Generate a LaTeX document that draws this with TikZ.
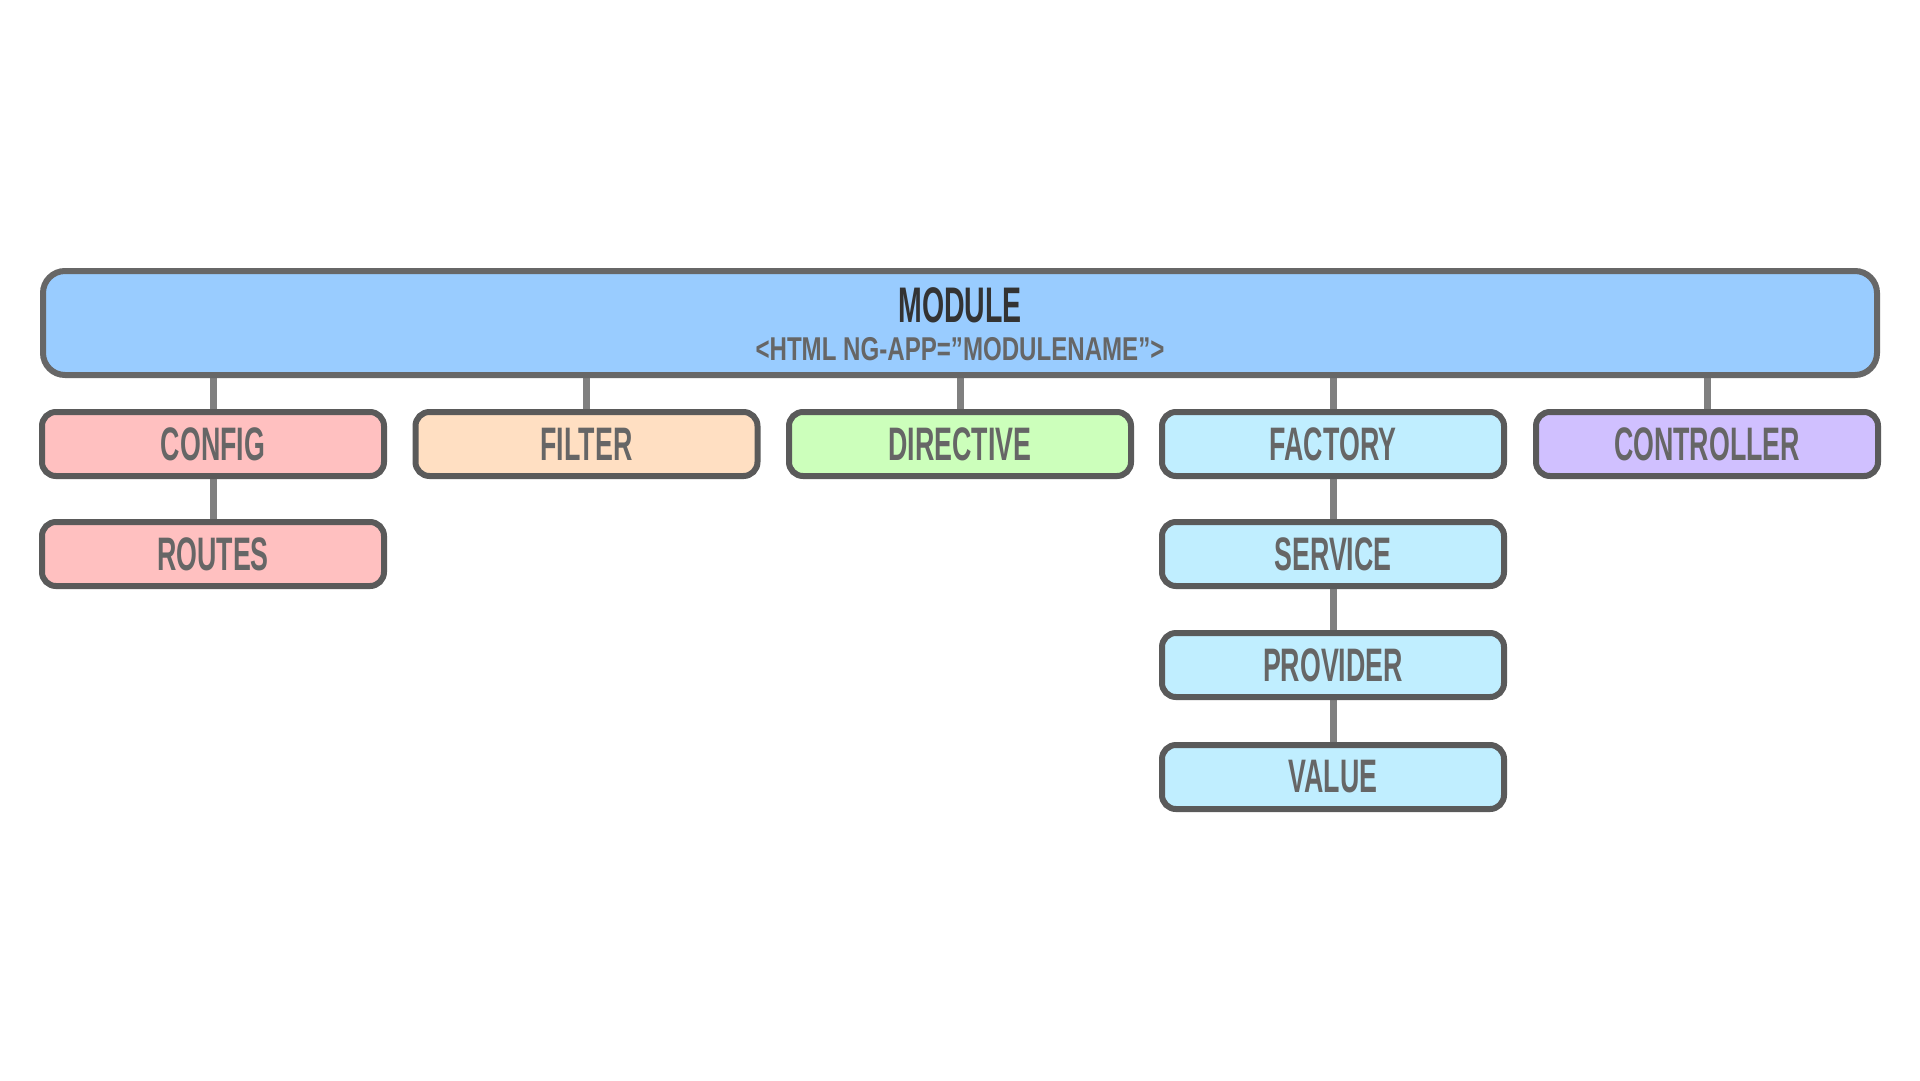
\documentclass[tikz,border=0pt]{standalone}
\usepackage{fontspec}
\newfontfamily\bebas{Liberation Sans}[FakeStretch=0.57]
\newfontfamily\bebaswide{Liberation Sans}[FakeStretch=0.73]
\usetikzlibrary{backgrounds}
\definecolor{modfill}{HTML}{99CCFF}
\definecolor{pinkfill}{HTML}{FFC0C0}
\definecolor{peachfill}{HTML}{FFDFC2}
\definecolor{greenfill}{HTML}{CCFFBB}
\definecolor{cyanfill}{HTML}{C0EEFF}
\definecolor{purplefill}{HTML}{D0C0FF}
\definecolor{edgegray}{HTML}{5A5A5A}
\definecolor{modedge}{HTML}{676767}
\definecolor{linkgray}{HTML}{808080}
\definecolor{textgray}{HTML}{666666}
\definecolor{titlegray}{HTML}{333333}
\tikzset{
  box/.style={draw=edgegray, line width=6pt, rounded corners=14pt,
    minimum width=342pt, minimum height=64pt, inner sep=0pt,
    text=textgray, font=\bebas\bfseries\fontsize{47}{50}\selectfont},
  link/.style={draw=linkgray, line width=7pt},
}
\begin{document}
\begin{tikzpicture}[x=1pt,y=-1pt]
\useasboundingbox (0,0) rectangle (1920,1080);
\node[draw=modedge, fill=modfill, line width=6pt, rounded corners=22pt,
  minimum width=1834pt, minimum height=104pt, inner sep=0pt] (module) at (960,323) {};
\node[text=titlegray, font=\bebas\bfseries\fontsize{50}{52}\selectfont, inner sep=0pt] (modtitle) at (960,305) {MODULE};
\node[text=textgray, font=\bebaswide\bfseries\fontsize{33}{35}\selectfont, inner sep=0pt] (modsub) at (960,349) {<HTML NG-APP=”MODULENAME”>};

\node[box, fill=pinkfill] (config) at (213,444) {CONFIG};
\node[box, fill=pinkfill] (routes) at (213,554) {ROUTES};
\node[box, fill=peachfill] (filter) at (586.5,444) {FILTER};
\node[box, fill=greenfill] (directive) at (960,444) {DIRECTIVE};
\node[box, fill=cyanfill] (factory) at (1333,444) {FACTORY};
\node[box, fill=cyanfill] (service) at (1333,554) {SERVICE};
\node[box, fill=cyanfill] (provider) at (1333,665) {PROVIDER};
\node[box, fill=cyanfill] (value) at (1333,777) {VALUE};
\node[box, fill=purplefill] (controller) at (1707,444) {CONTROLLER};

\begin{scope}[on background layer]
\fill[white] (0,0) rectangle (1920,1080);
\foreach \n in {config,filter,directive,factory,controller}
  \draw[link] (\n.center |- module.south) -- (\n.north);
\draw[link] (config.south) -- (routes.north);
\draw[link] (factory.south) -- (service.north);
\draw[link] (service.south) -- (provider.north);
\draw[link] (provider.south) -- (value.north);
\end{scope}
\end{tikzpicture}
\end{document}
